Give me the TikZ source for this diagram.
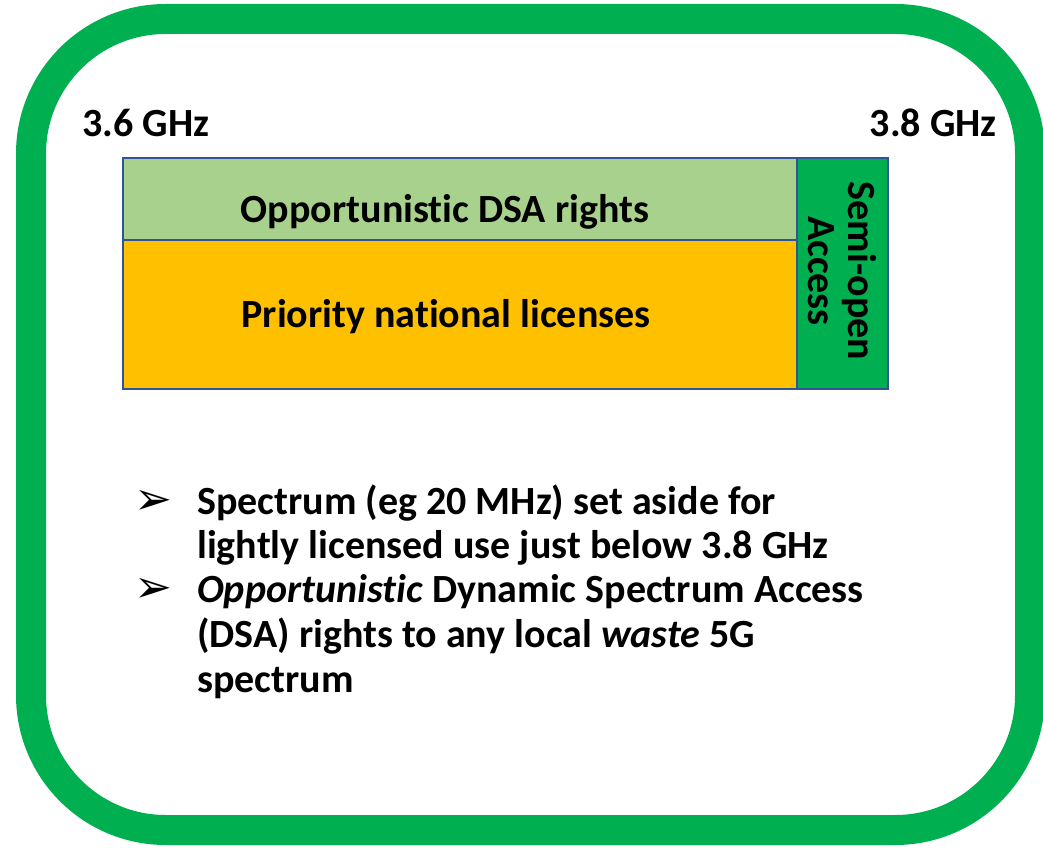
\documentclass[tikz,border=0pt]{standalone}
\usepackage{fontspec}
\setmainfont{Carlito}[Ligatures=NoCommon]
\newfontfamily\symfont{DejaVu Sans}
\definecolor{bordergreen}{HTML}{00B050}
\definecolor{lightgreen}{HTML}{A9D18E}
\definecolor{gold}{HTML}{FFC000}
\definecolor{edgeblue}{HTML}{2F5597}
\tikzset{
  band/.style={draw=edgeblue, line width=1.5pt},
  lbl/.style={font=\fontsize{30}{36}\selectfont\bfseries, inner sep=0pt},
  bul/.style={font=\fontsize{30}{36}\selectfont\bfseries, inner sep=0pt, anchor=base west},
  tip/.style={font=\symfont\fontsize{34}{40}\selectfont, inner sep=0pt, anchor=base}
}
\begin{document}
\begin{tikzpicture}[x=0.75pt,y=-0.75pt]
\useasboundingbox (0,0) rectangle (1043,855);
\fill[white] (0,0) rectangle (1043,855);
% outer rounded frame
\draw[bordergreen, line width=22.5pt, rounded corners=101pt] (31,19) rectangle (1030,830);
% spectrum bands
\filldraw[band, fill=lightgreen] (123,158) rectangle (797,240);
\filldraw[band, fill=gold] (123,240) rectangle (797,389);
\filldraw[band, fill=bordergreen] (797,158) rectangle (888,389);
\node[lbl] (opp) at (445,212) {Opportunistic DSA rights};
\node[lbl] (pri) at (446,317) {Priority national licenses};
\node[lbl, rotate=-90, align=center, font=\fontsize{30}{30}\selectfont\bfseries] (semi) at (842,271) {Semi-open\\Access};
% frequency labels
\node[lbl, anchor=base west] (f36) at (82,137) {3.6 GHz};
\node[lbl, anchor=base east] (f38) at (997,137) {3.8 GHz};
% bullets
\node[tip] (t1) at (153,514) {➢};
\node[bul] (b1a) at (197,514) {Spectrum (eg 20 MHz) set aside for};
\node[bul] (b1b) at (197,558) {lightly licensed use just below 3.8 GHz};
\node[tip] (t2) at (153,602) {➢};
\node[bul] (b2a) at (197,602) {\textit{Opportunistic} Dynamic Spectrum Access};
\node[bul] (b2b) at (197,647) {(DSA) rights to any local \textit{waste} 5G};
\node[bul] (b2c) at (197,692) {spectrum};
\end{tikzpicture}
\end{document}
